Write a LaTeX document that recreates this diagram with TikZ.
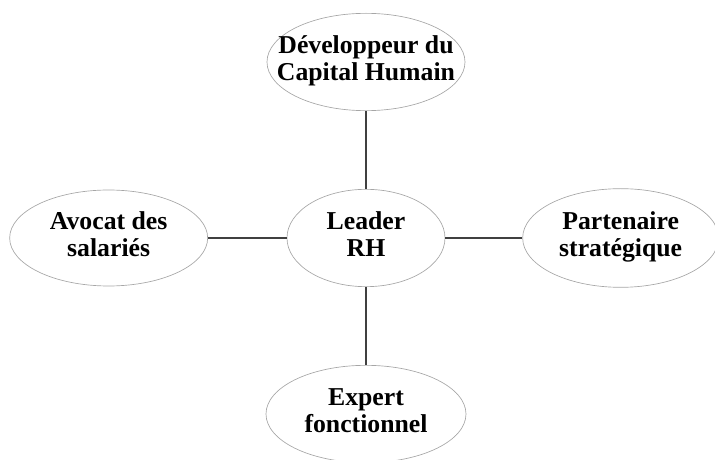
\documentclass[tikz,border=0pt]{standalone}
\usepackage{fontspec}
\setmainfont{Liberation Serif}
\usepackage{tikz}
\usetikzlibrary{shapes,arrows,positioning}

% texte centré sur deux lignes, sans élargir l'ellipse
\newcommand{\etiq}[1]{\makebox[0pt]{\raisebox{-2pt}{\begin{tabular}{@{}c@{}}#1\end{tabular}}}}

\begin{document}
\begin{tikzpicture}[auto]
    % Styles
    \tikzstyle{bulle} = [ellipse, draw=black!35, line width=0.5pt, minimum width=148.5pt, minimum height=73pt, inner sep=0pt, font=\fontsize{19.3}{20}\selectfont\bfseries]
    \tikzstyle{line} = [draw, line width=1.1pt, black!75]

    \useasboundingbox (-274.5pt,-166.5pt) rectangle (261.75pt,178.5pt);

    % Noeuds
    \node [bulle, minimum width=118.5pt] (leader) {\etiq{Leader\\RH}};
    \node [bulle, above of=leader, node distance=132pt] (capital) {\etiq{Développeur du\\Capital Humain}};
    \node [bulle, below of=leader, node distance=132pt, minimum width=150pt] (expert) {\etiq{Expert\\fonctionnel}};
    \node [bulle, left of=leader, node distance=193pt, minimum height=72pt] (avocat) {\etiq{Avocat des\\salariés}};
    \node [bulle, right of=leader, node distance=191pt, minimum width=147pt, minimum height=74pt] (partenaire) {\etiq{Partenaire\\stratégique}};

    % Liaisons
    \path [line] (leader) -- (capital);
    \path [line] (leader) -- (expert);
    \path [line] (leader) -- (avocat);
    \path [line] (leader) -- (partenaire);
\end{tikzpicture}
\end{document}
